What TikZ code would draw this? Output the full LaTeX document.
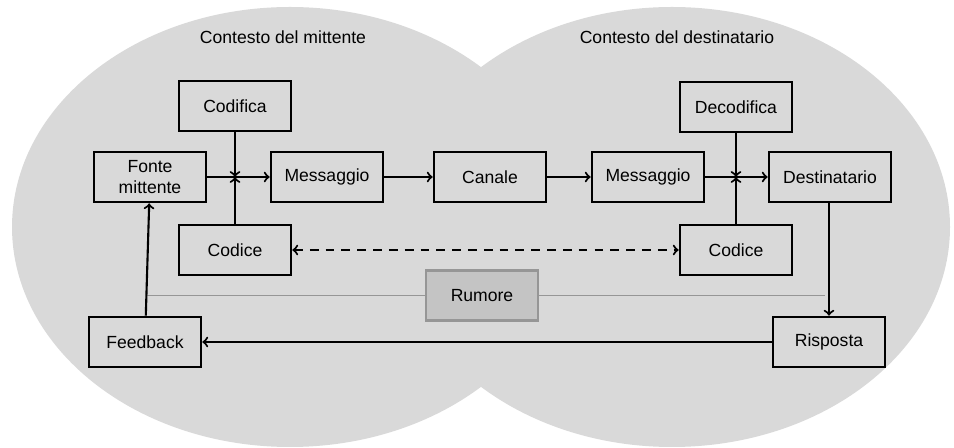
\documentclass[tikz,border=0pt]{standalone}
\usepackage{xcolor}
\usepackage{fontspec}
\setmainfont{Liberation Sans}
\usepackage{tikz}
\usetikzlibrary{arrows}

\definecolor{contesto}{HTML}{D9D9D9}
\definecolor{rumorefill}{HTML}{C4C4C4}
\definecolor{rumoreline}{HTML}{969696}

\begin{document}
\begin{tikzpicture}[node distance=3.3cm, auto,
        blocco/.style={rectangle, draw, line width=1.5pt, minimum width=2.24cm, minimum height=1cm, align=center, font=\fontsize{10}{11.5}\selectfont},
        freccia/.style={->, line width=1.2pt},
        linea/.style={line width=1.2pt},
        disturbo/.style={draw=rumoreline, line width=1pt}]
        \useasboundingbox (0,0) rectangle (19.08,-8.96);

        % Contesti
        \fill[contesto] (5.8,-4.54) ellipse (5.56 and 4.4);
        \fill[contesto] (13.44,-4.54) ellipse (5.56 and 4.4);
        \node (ctxmitt) at (5.66,-0.74) {Contesto del mittente};
        \node (ctxdest) at (13.54,-0.74) {Contesto del destinatario};

        % Blocchi
        \node[blocco] (fonte) at (3.0,-3.54) {Fonte\\mittente};
        \node[blocco, right of=fonte, xshift=0.24cm] (msgmitt) {Messaggio};
        \node[blocco, right of=msgmitt, xshift=-0.04cm] (canale) {Canale};
        \node[blocco, right of=canale, xshift=-0.14cm] (msgdest) {Messaggio};
        \node[blocco, right of=msgdest, xshift=0.34cm, minimum width=2.44cm] (dest) {Destinatario};
        \node[blocco] (codifica) at (4.7,-2.12) {Codifica};
        \node[blocco] (codmitt) at (4.7,-5.0) {Codice};
        \node[blocco] (decodifica) at (14.72,-2.14) {Decodifica};
        \node[blocco] (coddest) at (14.72,-5.0) {Codice};
        \node[blocco] (feedback) at (2.9,-6.84) {Feedback};
        \node[blocco] (risposta) at (16.58,-6.84) {Risposta};
        \node[blocco, draw=rumoreline, fill=rumorefill] (rumore) at (9.64,-5.91) {Rumore};

        % Incroci e rumore
        \coordinate (xmitt) at (codifica.south |- fonte.east);
        \coordinate (xdest) at (decodifica.south |- dest.west);
        \coordinate (rumsx) at (2.92,-5.91);
        \coordinate (rumdx) at (16.5,-5.91);
        \draw[disturbo] (rumsx) -- (rumore) -- (rumdx);

        % Messaggi
        \draw[linea] (fonte) -- (xmitt);
        \draw[freccia] (xmitt) -- (msgmitt);
        \draw[freccia] (codifica) -- (xmitt);
        \draw[freccia] (codmitt) -- (xmitt);
        \draw[freccia] (msgmitt) -- (canale);
        \draw[freccia] (canale) -- (msgdest);
        \draw[linea] (msgdest) -- (xdest);
        \draw[freccia] (xdest) -- (dest);
        \draw[freccia] (decodifica) -- (xdest);
        \draw[freccia] (coddest) -- (xdest);
        \draw[freccia, <->, dash pattern=on 5pt off 4pt] (codmitt) -- (coddest);
        \draw[freccia] (risposta |- dest.south) -- (risposta);
        \draw[freccia] (risposta) -- (feedback);
        \draw[freccia] (feedback) -- (fonte);

    \end{tikzpicture}
\end{document}
